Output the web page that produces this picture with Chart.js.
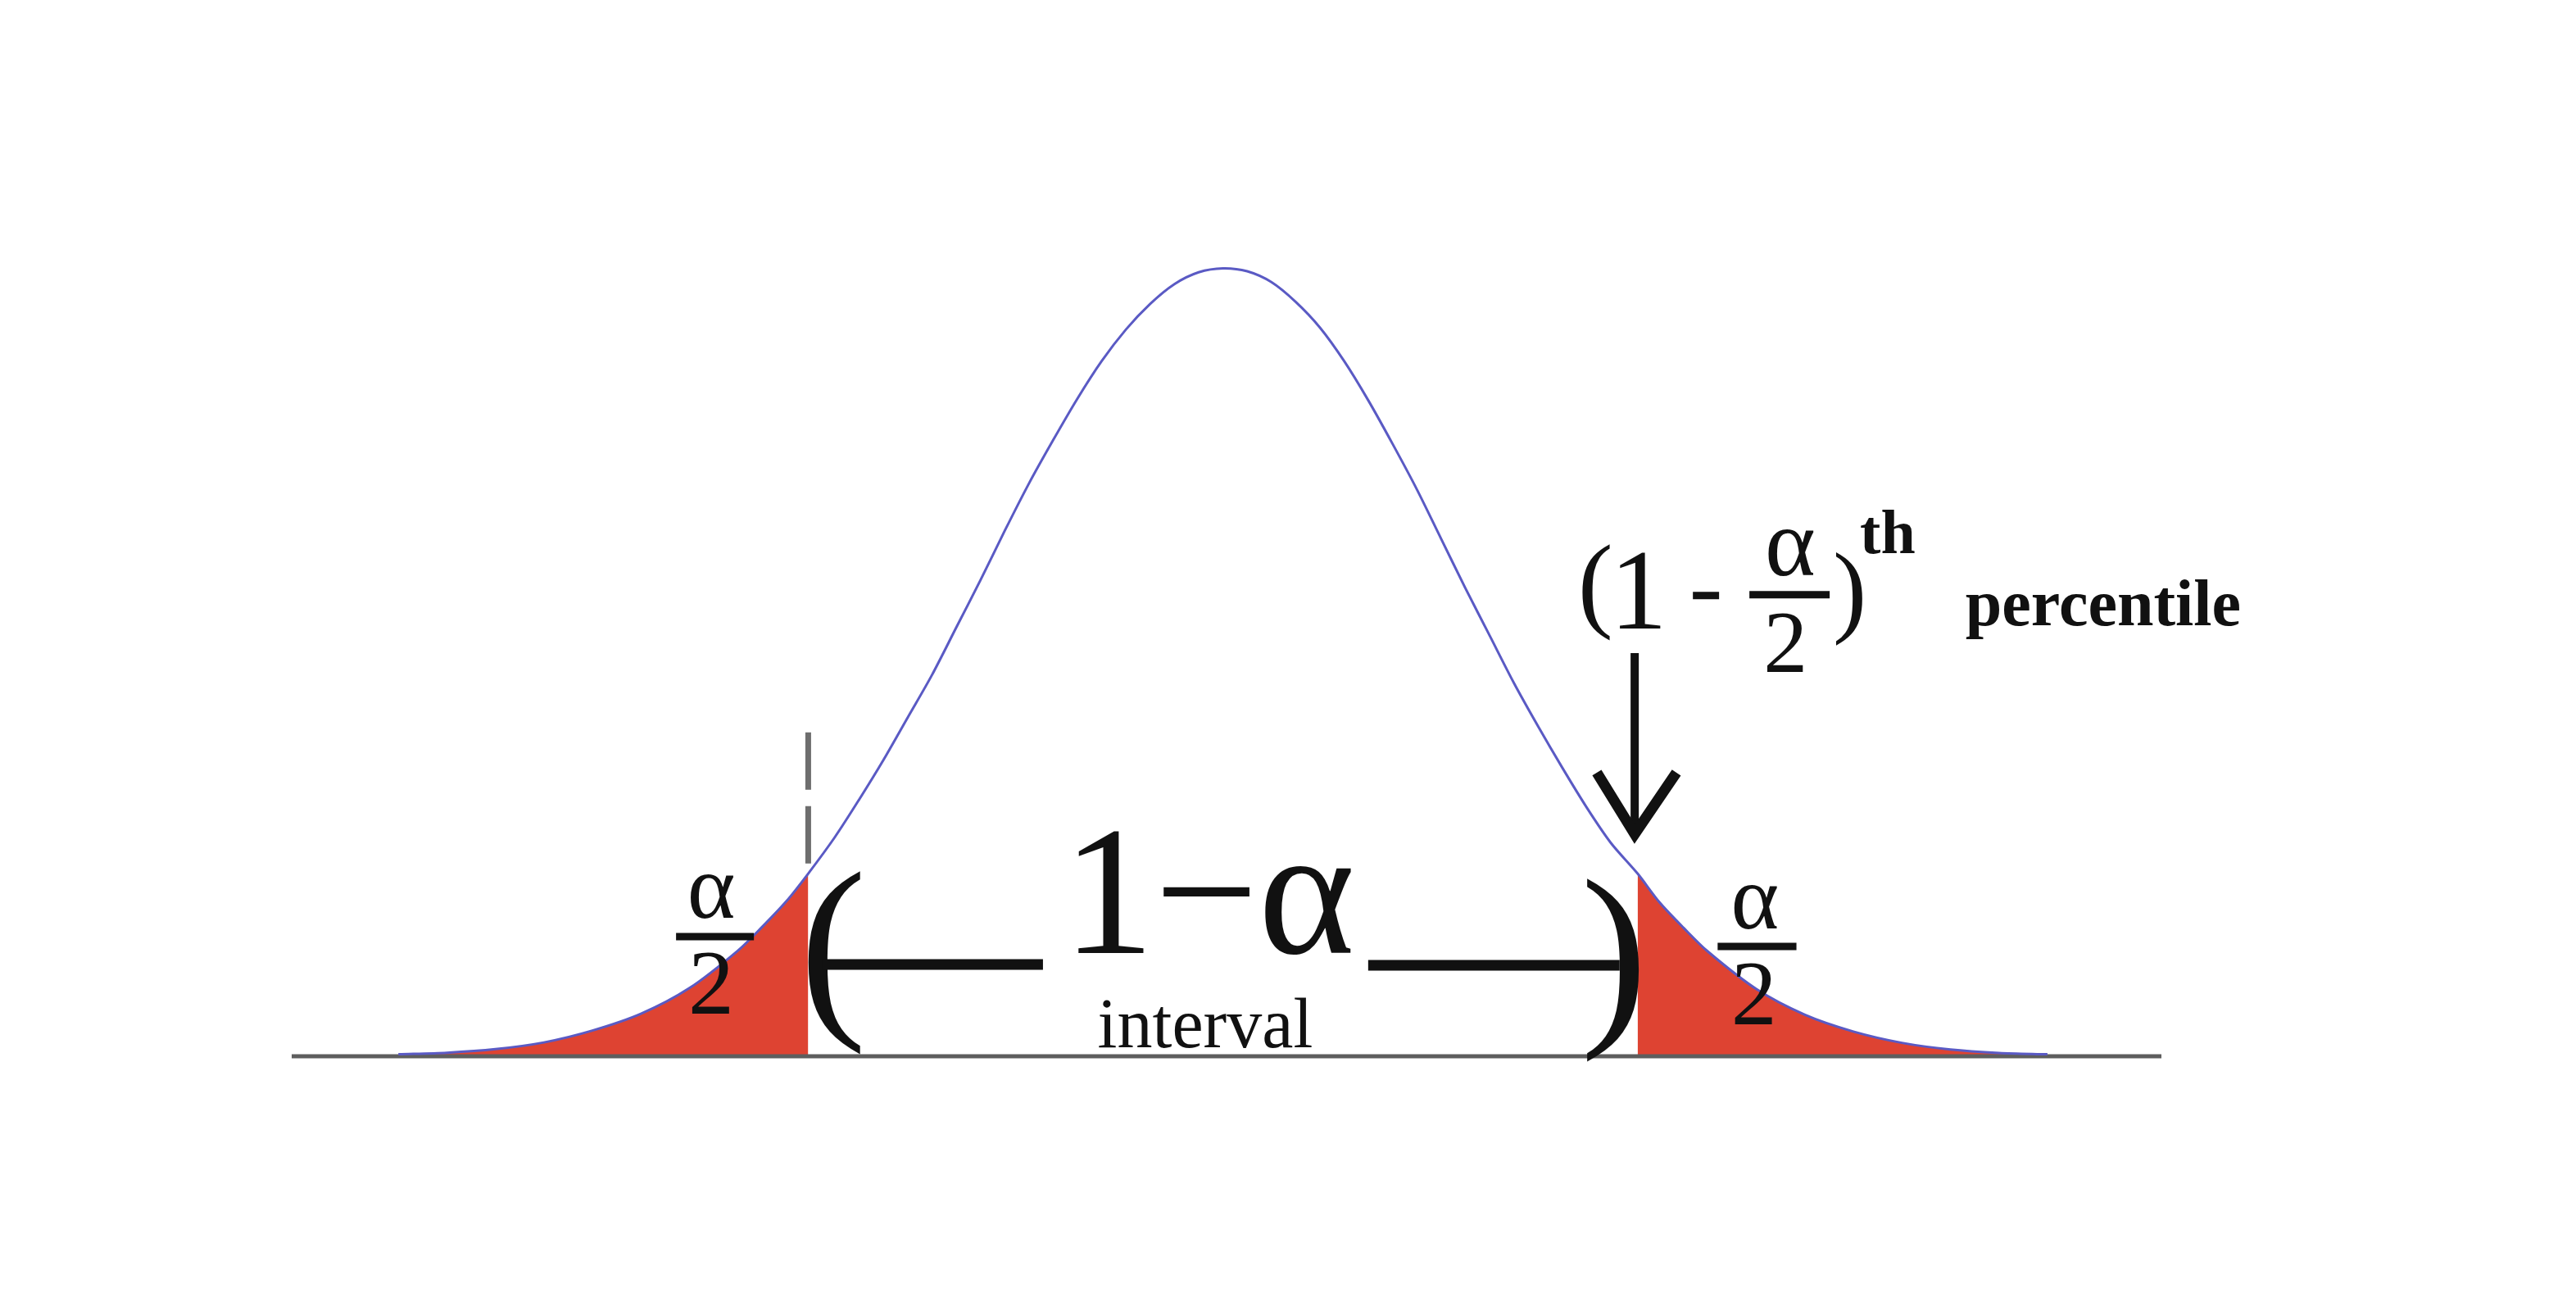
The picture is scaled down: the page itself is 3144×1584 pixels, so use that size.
<!DOCTYPE html>
<html>
<head>
<meta charset="utf-8">
<script src="https://cdn.jsdelivr.net/npm/chart.js@4.4.0/dist/chart.umd.min.js"></script>
<style>
    html, body { margin: 0; padding: 0; background: #fff; }
    #wrap { width: 3144px; height: 1584px; }
    .probe { font-family: "Liberation Serif"; position: absolute; left: -9999px; }
</style>
</head>
<body>
<span class="probe">(1−α) 2 <b>th percentile</b> interval</span>
<div id="wrap"><canvas id="bell" width="3144" height="1584"></canvas></div>
<script>
// positions along the axis (in standard deviations) and the curve height
let zValues = [-3.4, -3.2, -3.0, -2.8, -2.6, -2.4, -2.2, -2.0, -1.9, -1.8, -1.71, -1.6, -1.5, -1.4, -1.3, -1.2, -1.1, -1.0, -0.9, -0.8, -0.7, -0.6, -0.5, -0.4, -0.3, -0.2, -0.1, 0,
    0.1, 0.2, 0.3, 0.4, 0.5, 0.6, 0.7, 0.8, 0.9, 1.0, 1.1, 1.2, 1.3, 1.4, 1.5, 1.6, 1.71, 1.8, 1.9, 2.0, 2.2, 2.4, 2.6, 2.8, 3.0, 3.2, 3.4]
let density = [0.0010, 0.0018, 0.0036, 0.0070, 0.0130, 0.0215, 0.0345, 0.0535, 0.0655, 0.0785, 0.0925, 0.1110, 0.1300, 0.1500, 0.1715, 0.1930, 0.2170, 0.2410, 0.2660, 0.2900, 0.3120, 0.3330, 0.3520, 0.3680, 0.3810, 0.3910, 0.3970, 0.3990,
    0.3975, 0.3920, 0.3820, 0.3690, 0.3520, 0.3320, 0.3100, 0.2870, 0.2620, 0.2370, 0.2130, 0.1890, 0.1670, 0.1460, 0.1260, 0.1080, 0.0925, 0.0780, 0.0650, 0.0530, 0.0340, 0.0210, 0.0125, 0.0068, 0.0034, 0.0017, 0.0010]

// the two cut points of the interval
let cutLeft = -1.71
let cutRight = 1.71

// visible stretch of the base line
let axisMin = -3.84
let axisMax = 3.87

// texts
let oneMinusAlpha = '1\u2212\u03b1'
let intervalLabel = 'interval'
let alphaLabel = '\u03b1'
let twoLabel = '2'
let thLabel = 'th'
let percentileLabel = 'percentile'

let curvePoints = zValues.map((z, i) => ({ x: z, y: density[i] }))
let leftTail = curvePoints.filter(p => p.x <= cutLeft)
let rightTail = curvePoints.filter(p => p.x >= cutRight)

let serif = '"Liberation Serif", "Times New Roman", serif'
let ink = '#111111'

let notes = {
    id: 'notes',
    afterDatasetsDraw(chart) {
        let ctx = chart.ctx
        let X = v => chart.scales.x.getPixelForValue(v)
        let Y = v => chart.scales.y.getPixelForValue(v)

        function text(str, z, d, size, align, bold) {
            ctx.font = (bold ? 'bold ' : '') + size + 'px ' + serif
            ctx.textAlign = align
            ctx.textBaseline = 'alphabetic'
            ctx.fillStyle = ink
            ctx.fillText(str, X(z), Y(d))
        }
        function line(z1, d1, z2, d2, width, color) {
            ctx.strokeStyle = color || ink
            ctx.lineWidth = width
            ctx.beginPath()
            ctx.moveTo(X(z1), Y(d1))
            ctx.lineTo(X(z2), Y(d2))
            ctx.stroke()
        }

        ctx.save()

        // dashed marker above the left cut
        ctx.setLineDash([70, 20])
        line(cutLeft, 0.164, cutLeft, 0.0925, 7, '#6e6e6e')
        ctx.setLineDash([])

        // interval bracket with its label
        text('(', -1.745, 0.0228, 245, 'left')
        text(')', 1.475, 0.0191, 245, 'left')
        line(-1.654, 0.0465, -0.742, 0.0465, 13)
        line(0.599, 0.0461, 1.636, 0.0461, 13)
        text(oneMinusAlpha, -0.059, 0.0523, 225, 'center')
        text(intervalLabel, -0.073, 0.0046, 86, 'center')

        // alpha / 2 on each tail
        text(alphaLabel, -2.11, 0.0702, 112, 'center')
        line(-2.255, 0.0606, -1.934, 0.0606, 9)
        text(twoLabel, -2.11, 0.0216, 112, 'center')

        text(alphaLabel, 2.194, 0.0648, 112, 'center')
        line(2.040, 0.0556, 2.365, 0.0556, 9)
        text(twoLabel, 2.190, 0.0162, 112, 'center')

        // (1 - alpha/2)th percentile
        text('(', 1.464, 0.2221, 129, 'left')
        text('1', 1.714, 0.2167, 140, 'center')
        line(1.938, 0.2333, 2.046, 0.2333, 9)
        line(2.171, 0.2337, 2.502, 0.2337, 9)
        text(alphaLabel, 2.339, 0.2437, 118, 'center')
        text(twoLabel, 2.320, 0.1947, 108, 'center')
        text(')', 2.515, 0.2192, 124, 'left')
        text(thLabel, 2.627, 0.2549, 76, 'left', true)
        text(percentileLabel, 3.062, 0.2183, 80, 'left', true)

        // arrow down to the right cut
        line(1.698, 0.2042, 1.698, 0.1130, 10)
        ctx.lineJoin = 'miter'
        ctx.lineWidth = 13
        ctx.beginPath()
        ctx.moveTo(X(1.542), Y(0.1436))
        ctx.lineTo(X(1.698), Y(0.1125))
        ctx.lineTo(X(1.870), Y(0.1436))
        ctx.stroke()

        ctx.restore()
    }
}

function drawChart() {
    new Chart(document.getElementById('bell'), {
        type: 'line',
        data: {
            datasets: [
                {
                    label: 'curve',
                    data: curvePoints,
                    borderColor: '#5a5ac4',
                    borderWidth: 3,
                    pointRadius: 0,
                    fill: false,
                    tension: 0.3,
                    clip: false,
                    order: 0
                },
                {
                    label: 'base',
                    data: [{ x: axisMin, y: 0 }, { x: axisMax, y: 0 }],
                    borderColor: '#5e5e5e',
                    borderWidth: 5,
                    pointRadius: 0,
                    fill: false,
                    clip: false,
                    order: 1
                },
                {
                    label: 'left tail',
                    data: leftTail,
                    borderWidth: 0,
                    borderColor: 'rgba(0,0,0,0)',
                    backgroundColor: '#de4332',
                    pointRadius: 0,
                    fill: 'origin',
                    tension: 0.3,
                    order: 2
                },
                {
                    label: 'right tail',
                    data: rightTail,
                    borderWidth: 0,
                    borderColor: 'rgba(0,0,0,0)',
                    backgroundColor: '#de4332',
                    pointRadius: 0,
                    fill: 'origin',
                    tension: 0.3,
                    order: 2
                }
            ]
        },
        options: {
            responsive: false,
            animation: false,
            devicePixelRatio: 1,
            layout: { padding: { left: 356, right: 506, top: 325, bottom: 295 } },
            plugins: {
                legend: { display: false },
                tooltip: { enabled: false }
            },
            scales: {
                x: { type: 'linear', min: axisMin, max: axisMax, display: false },
                y: { min: 0, max: 0.4, display: false }
            }
        },
        plugins: [notes]
    })
}

Promise.all([
    document.fonts.load('100px "Liberation Serif"', '(1−α)'),
    document.fonts.load('bold 100px "Liberation Serif"', 'percentile')
]).then(drawChart, drawChart)
</script>
</body>
</html>
